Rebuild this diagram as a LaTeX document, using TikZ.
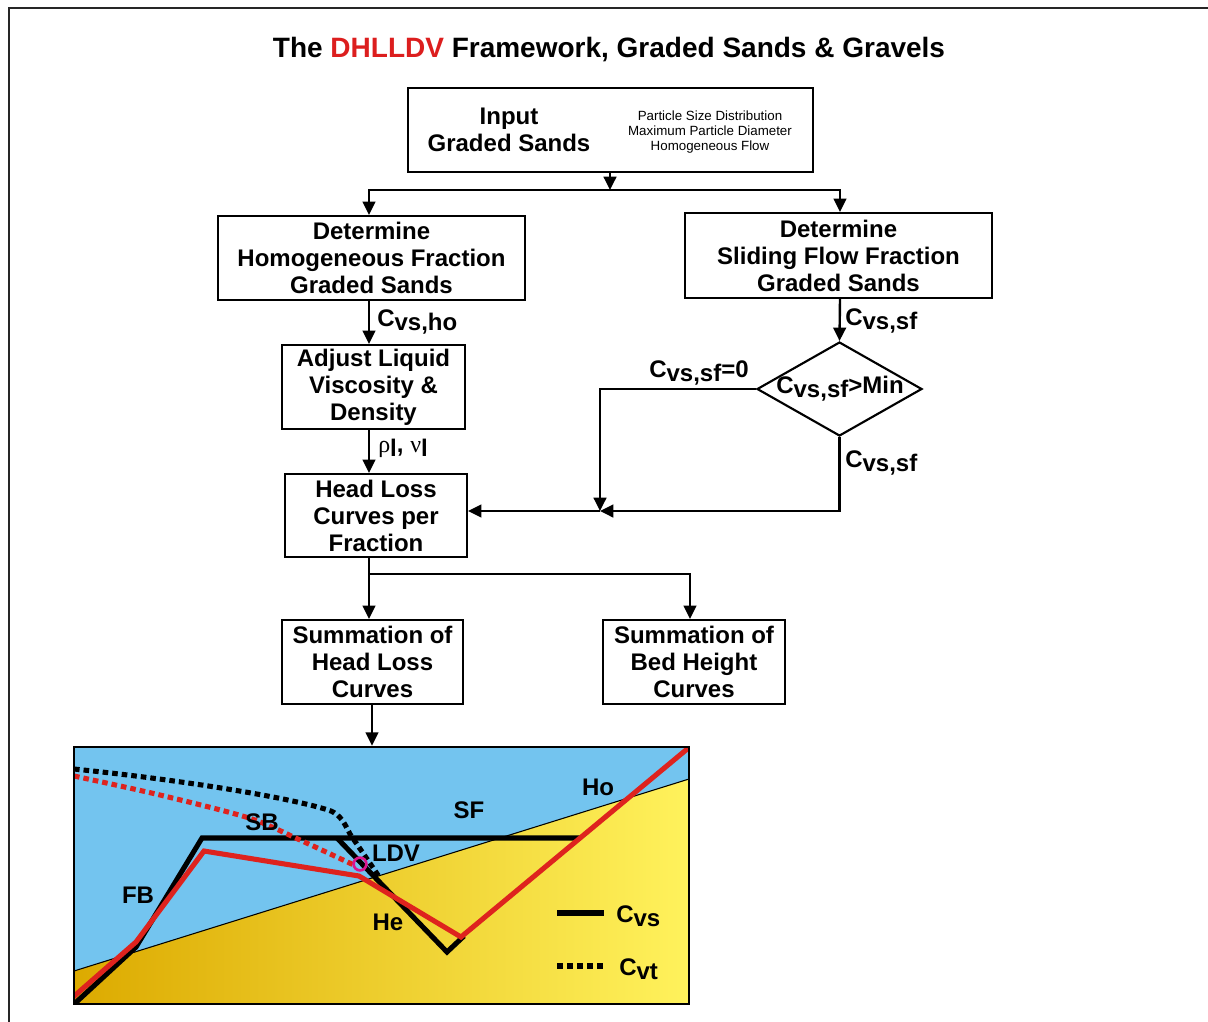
\documentclass[tikz,border=0pt]{standalone}
\usepackage{fontspec}
\setmainfont{Liberation Sans}
\newfontfamily\serifg{Liberation Serif}
\usetikzlibrary{shapes.geometric,arrows.meta}
\definecolor{skyb}{RGB}{115,196,239}
\definecolor{goldL}{RGB}{220,170,0}
\definecolor{goldR}{RGB}{255,242,92}
\definecolor{redl}{RGB}{222,35,30}
\definecolor{magc}{RGB}{220,20,140}
\definecolor{titred}{RGB}{220,30,30}
\newcommand{\Csub}[1]{C\raisebox{-0.3ex}{#1}}
\begin{document}
\begin{tikzpicture}[x=0.75pt,y=-0.75pt,
 font=\bfseries\fontsize{18}{20.25}\selectfont,
 box/.style={draw, line width=1.6pt, inner sep=0pt, align=center},
 arr/.style={line width=1.8pt, -{Triangle[length=10pt,width=9.5pt]}},
 ln/.style={line width=1.8pt},
 lbl/.style={anchor=west, inner sep=0pt},
 solidc/.style={line width=3.8pt, line join=miter},
 dotc/.style={line width=3.8pt, dash pattern=on 4.2pt off 3pt},
 clbl/.style={inner sep=0pt},
 ]
\useasboundingbox (0,0) rectangle (1208,1022);
\draw[line width=2pt, black!85] (9,1022) -- (9,8) -- (1208,8);

\node (title) at (609,50) {\fontsize{21}{24}\selectfont The \textcolor{titred}{DHLLDV} Framework, Graded Sands \& Gravels};

% boxes
\node[box, minimum width=303.75pt, minimum height=63pt] (input) at (610.5,130) {};
\node[align=center, inner sep=0pt] (intxt) at (509,130) {Input\\Graded Sands};
\node[align=center, inner sep=0pt, font=\fontsize{10}{11.25}\selectfont] (insmall) at (710,132) {Particle Size Distribution\\Maximum Particle Diameter\\Homogeneous Flow};

\node[box, minimum width=230.25pt, minimum height=63pt] (homog) at (371.5,258) {Determine\\Homogeneous Fraction\\Graded Sands};
\node[box, minimum width=230.25pt, minimum height=63.75pt] (sliding) at (838.5,255.5) {Determine\\Sliding Flow Fraction\\Graded Sands};
\node[box, minimum width=137.25pt, minimum height=63pt] (adjust) at (373.5,387) {Adjust Liquid\\Viscosity \&\\Density};
\node[box, minimum width=136.5pt, minimum height=62.25pt] (headloss) at (376,515.5) {Head Loss\\Curves per\\Fraction};
\node[box, minimum width=135.75pt, minimum height=63pt] (sumhl) at (372.5,662) {Summation of\\Head Loss\\Curves};
\node[box, minimum width=136.5pt, minimum height=63pt] (sumbh) at (694,662) {Summation of\\Bed Height\\Curves};
\node[draw, diamond, line width=1.6pt, minimum width=123.75pt, minimum height=70.5pt, inner sep=0pt] (diam) at (839.5,389) {};
\node[inner sep=0pt] (diamtxt) at (840,389) {\Csub{vs,sf}>Min};

% connectors
\coordinate (xl) at (369,0);
\coordinate (xr) at (840,0);
\coordinate (j1) at (610,190);
\coordinate (m) at (600,511);
\coordinate (j2) at (369,574);
\coordinate (xb) at (690,0);
\coordinate (xc) at (372,0);

\draw[arr] (input.south -| j1) -- (j1);
\draw[arr] (j1) -| (homog.north -| xl);
\draw[arr] (j1) -| (sliding.north -| xr);
\draw[arr] (homog.south -| xl) -- (adjust.north -| xl);
\node[lbl] (lho) at (377,322) {\Csub{vs,ho}};
\draw[arr] (adjust.south -| xl) -- (headloss.north -| xl);
\node[lbl] (lrho) at (378,448) {{\serifg\mdseries ρ}\raisebox{-0.3ex}{l}, {\serifg\mdseries ν}\raisebox{-0.3ex}{l}};
\draw[arr] (sliding.south -| xr) -- (diam.north);
\node[lbl] (lsf1) at (845,321) {\Csub{vs,sf}};
\draw[arr] (diam.west) -| (m);
\node[inner sep=0pt] (lsf0) at (699,373) {\Csub{vs,sf}=0};
\draw[arr] (diam.south) |- (m);
\node[lbl] (lsf2) at (845,463) {\Csub{vs,sf}};
\draw[arr] (m) -- (headloss.east |- m);
\draw[ln] (headloss.south -| xl) -- (j2);
\draw[arr] (j2) -- (sumhl.north -| xl);
\draw[arr] (j2) -| (sumbh.north -| xb);

% chart
\fill[skyb] (74,747) rectangle (689,1004);
\shade[left color=goldL, right color=goldR] (74,971) -- (689,779) -- (689,1004) -- (74,1004) -- cycle;
\draw[line width=0.8pt] (74,971) -- (689,779);
\begin{scope}
\clip (74,747) rectangle (689,1004);
\draw[solidc] (72,1006) -- (136,947) -- (202,838) -- (580,838);
\draw[solidc] (337,838) -- (447,952) -- (464,936);
\draw[solidc, redl] (72,998) -- (136,942) -- (204,851) -- (359,876) -- (461,937) -- (692,745);
\draw[dotc] (74,769) .. controls (200,782) and (300,800) .. (331,811) .. controls (340,815) and (344,822) .. (350,834) -- (380,878);
\draw[dotc, redl] plot[smooth] coordinates {(74,776) (160,795) (249,818) (300,840) (356,866)};
\draw[magc, line width=2pt] (360,864) circle[radius=4.8pt];
\end{scope}
\node[draw, line width=2pt, minimum width=461.25pt, minimum height=192.75pt, inner sep=0pt] (chart) at (381.5,875.5) {};
\draw[arr] (sumhl.south -| xc) -- (chart.north -| xc);

\node[clbl] (sb) at (262,822) {SB};
\node[clbl] (sf) at (469,810) {SF};
\node[clbl] (ho) at (598,787) {Ho};
\node[clbl] (ldv) at (396,853) {LDV};
\node[clbl] (fb) at (138,895) {FB};
\node[clbl] (he) at (388,922) {He};

\draw[line width=4.5pt] (557,913) -- (604,913);
\node[lbl] (lcvs) at (616,916) {\Csub{vs}};
\draw[line width=4.5pt, dash pattern=on 4.2pt off 3.3pt] (557,966) -- (604,966);
\node[lbl] (lcvt) at (619,969) {\Csub{vt}};
\end{tikzpicture}
\end{document}
